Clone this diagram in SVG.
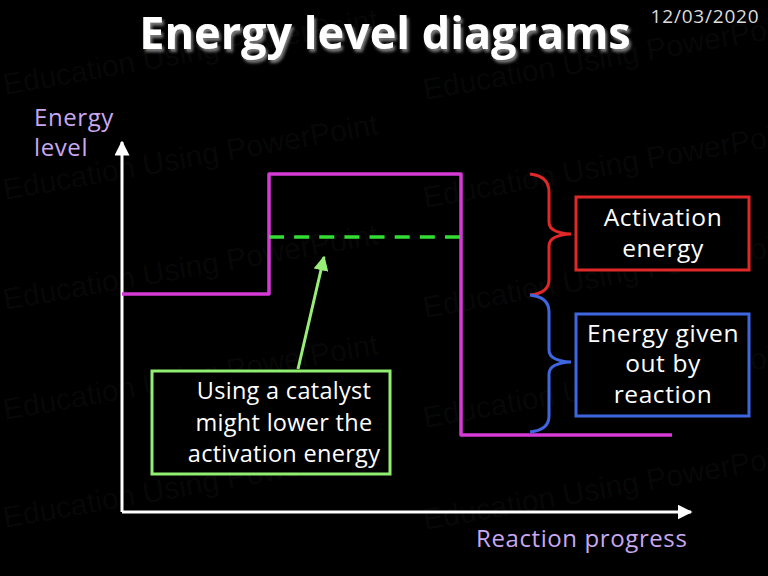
<svg xmlns="http://www.w3.org/2000/svg" width="768" height="576" viewBox="0 0 768 576">
<defs>
<style>
.wm{font-family:"Liberation Sans",Arial,sans-serif;font-size:30px;fill:#ffffff;fill-opacity:0.045}
.t{font-family:"Open Sans","DejaVu Sans",sans-serif;fill:#ffffff;text-anchor:middle;font-size:24.5px;letter-spacing:0.6px}
.tc{font-size:23.5px;letter-spacing:0.3px}
.lab{font-family:"Open Sans","DejaVu Sans",sans-serif;fill:#c8a8f0;font-size:24px;letter-spacing:0.6px}
.mag{fill:none;stroke:#d63ad6;stroke-width:3.5;stroke-linejoin:round}
.ax{stroke:#ffffff;stroke-width:3;fill:none}
</style>
<marker id="ah" viewBox="0 0 10 10" refX="9" refY="5" markerWidth="5" markerHeight="5" orient="auto" markerUnits="strokeWidth">
<path d="M0,0 L10,5 L0,10 z" fill="#ffffff"/>
</marker>
<marker id="ahg" viewBox="0 0 10 10" refX="9" refY="5" markerWidth="5" markerHeight="5" orient="auto" markerUnits="strokeWidth">
<path d="M0,0 L10,5 L0,10 z" fill="#99ee77"/>
</marker>
<filter id="sh" x="-10%" y="-20%" width="120%" height="140%">
<feDropShadow dx="2" dy="3" stdDeviation="1.5" flood-color="#888888" flood-opacity="0.9"/>
</filter>
</defs>
<rect width="768" height="576" fill="#000000"/>
<g id="watermarks">
<text class="wm" transform="translate(5,95) rotate(-10)">Education Using PowerPoint</text>
<text class="wm" transform="translate(5,200) rotate(-10)">Education Using PowerPoint</text>
<text class="wm" transform="translate(5,310) rotate(-10)">Education Using PowerPoint</text>
<text class="wm" transform="translate(5,420) rotate(-10)">Education Using PowerPoint</text>
<text class="wm" transform="translate(5,528) rotate(-10)">Education Using PowerPoint</text>
<text class="wm" transform="translate(425,100) rotate(-10)">Education Using PowerPoint</text>
<text class="wm" transform="translate(425,208) rotate(-10)">Education Using PowerPoint</text>
<text class="wm" transform="translate(425,318) rotate(-10)">Education Using PowerPoint</text>
<text class="wm" transform="translate(425,428) rotate(-10)">Education Using PowerPoint</text>
<text class="wm" transform="translate(425,530) rotate(-10)">Education Using PowerPoint</text>
</g>
<g id="title">
<text x="385" y="49" font-family="'Open Sans','DejaVu Sans',sans-serif" font-weight="bold" font-size="45" fill="#ffffff" text-anchor="middle" filter="url(#sh)">Energy level diagrams</text>
<text x="705" y="23" font-family="'Open Sans','DejaVu Sans',sans-serif" font-size="19" letter-spacing="0.8" fill="#dddddd" text-anchor="middle">12/03/2020</text>
</g>
<g id="axes">
<line class="ax" x1="122" y1="512" x2="122" y2="142" marker-end="url(#ah)"/>
<line class="ax" x1="122" y1="512" x2="691" y2="512" marker-end="url(#ah)"/>
<text class="lab" x="34" y="126">Energy</text>
<text class="lab" x="34" y="156">level</text>
<text class="lab" x="476" y="547">Reaction progress</text>
</g>
<g id="profile">
<path class="mag" d="M122,294 H269 V174 H461 V435 H672"/>
<line x1="269" y1="237" x2="461" y2="237" stroke="#33dd33" stroke-width="3.5" stroke-dasharray="15,10.14"/>
</g>
<g id="connectors">
<line x1="298" y1="369" x2="324" y2="257" stroke="#99ee77" stroke-width="3" marker-end="url(#ahg)"/>
<path d="M530,174 Q549,176 549,192 V222 Q549,233 571,234 Q549,235 549,246 V280 Q549,293 530,295" fill="none" stroke="#e02828" stroke-width="3"/>
<path d="M530,295 Q549,297 549,312 V350 Q549,361 571,362 Q549,363 549,374 V416 Q549,430 530,432" fill="none" stroke="#3d66e0" stroke-width="3"/>
</g>
<g id="catalyst-box">
<rect x="152" y="371" width="238" height="103" fill="#000000" stroke="#90ee70" stroke-width="3"/>
<text class="t tc" x="284" y="399">Using a catalyst</text>
<text class="t tc" x="284" y="431">might lower the</text>
<text class="t tc" x="284" y="462">activation energy</text>
</g>
<g id="activation-box">
<rect x="576" y="197" width="173" height="73" fill="#000000" stroke="#e02828" stroke-width="3"/>
<text class="t" x="663" y="226">Activation</text>
<text class="t" x="663" y="257">energy</text>
</g>
<g id="given-out-box">
<rect x="576" y="314" width="173" height="102" fill="#000000" stroke="#3d66e0" stroke-width="3"/>
<text class="t" x="663" y="342">Energy given</text>
<text class="t" x="663" y="372">out by</text>
<text class="t" x="663" y="403">reaction</text>
</g>
</svg>
